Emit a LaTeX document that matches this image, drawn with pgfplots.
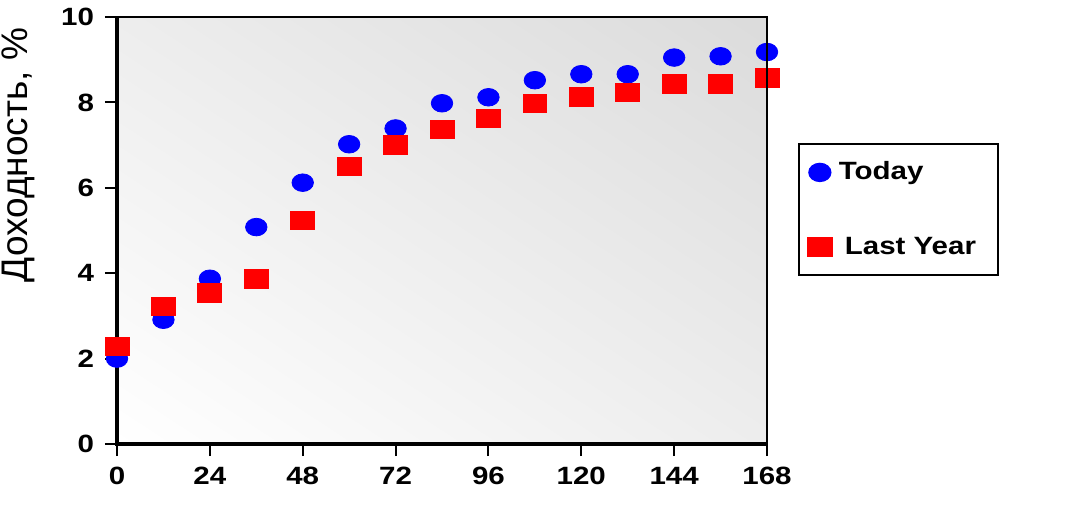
\documentclass[border=0pt]{standalone}
\usepackage{pgfplots}
\pgfplotsset{compat=1.18}
\usepackage{fontspec}
\setmainfont{Liberation Sans}
\usetikzlibrary{shadings}
\definecolor{todayblue}{RGB}{0,0,255}
\definecolor{lyred}{RGB}{255,0,0}
\pgfplotstableread{
x y
0 2.00
12 2.91
24 3.87
36 5.08
48 6.12
60 7.02
72 7.39
84 7.98
96 8.12
108 8.52
120 8.66
132 8.66
144 9.05
156 9.08
168 9.18
}\today
\pgfplotstableread{
x y
0 2.28
12 3.22
24 3.54
36 3.87
48 5.24
60 6.50
72 7.00
84 7.37
96 7.63
108 7.98
120 8.13
132 8.24
144 8.43
156 8.43
168 8.57
}\lastyear
\begin{document}
\begin{tikzpicture}
\useasboundingbox (0,0) rectangle (540.5pt,252pt);
\begin{axis}[
  at={(58.5pt,30pt)}, anchor=south west,
  scale only axis, width=325pt, height=213.5pt,
  xmin=0, xmax=168, ymin=0, ymax=10,
  xtick={0,24,...,168}, ytick={0,2,...,10},
  xtick pos=bottom, ytick pos=left,
  tick align=outside, major tick length=6pt,
  tick style={black, line width=1pt},
  axis line style={draw=none},
  clip=false,
  axis background/.style={shade, upper left=black!7, upper right=black!14, lower left=white, lower right=black!7},
  tick label style={font=\bfseries\fontsize{12.5}{13}\selectfont},
  xticklabel={\scalebox{1.18}[1]{\pgfmathprintnumber[assume math mode=true]{\tick}}},
  yticklabel={\scalebox{1.18}[1]{\pgfmathprintnumber[assume math mode=true]{\tick}}},
  xticklabel style={yshift=-2pt},
  yticklabel style={xshift=-2pt},
  ylabel={Доходность, \%},
  ylabel style={at={(axis description cs:-0.151,0.677)}, anchor=center, rotate=0, font=\fontsize{18.5}{20}\selectfont},
  legend style={at={(axis description cs:1.0477,0.705)}, anchor=north west,
    draw=black, line width=0.9pt, fill=white,
    font=\bfseries\fontsize{12.5}{13}\selectfont,
    inner xsep=4.5pt, inner ysep=7pt, row sep=23pt},
  legend cell align=left,
  after end axis/.code={
    \draw[black, line width=0.9pt] (rel axis cs:0,1) -- (rel axis cs:1,1) -- (rel axis cs:1,0);
  },
]
\draw[black, line width=1.8pt] (rel axis cs:0,1) -- (rel axis cs:0,0) -- (rel axis cs:1,0);
\addplot[only marks, mark=*, mark size=4.4pt, color=todayblue, mark options={xscale=1.22, draw=todayblue, fill=todayblue}] table[x=x,y=y] {\today};
\addlegendentry{\hspace{1.5pt}\scalebox{1.18}[1]{Today}}
\addplot[only marks, mark=square*, mark size=4.6pt, color=lyred, mark options={xscale=1.3, draw=lyred, fill=lyred}] table[x=x,y=y] {\lastyear};
\addlegendentry{\hspace{4.5pt}\scalebox{1.18}[1]{Last Year}\rule{4.5pt}{0pt}}
\end{axis}
\end{tikzpicture}
\end{document}
